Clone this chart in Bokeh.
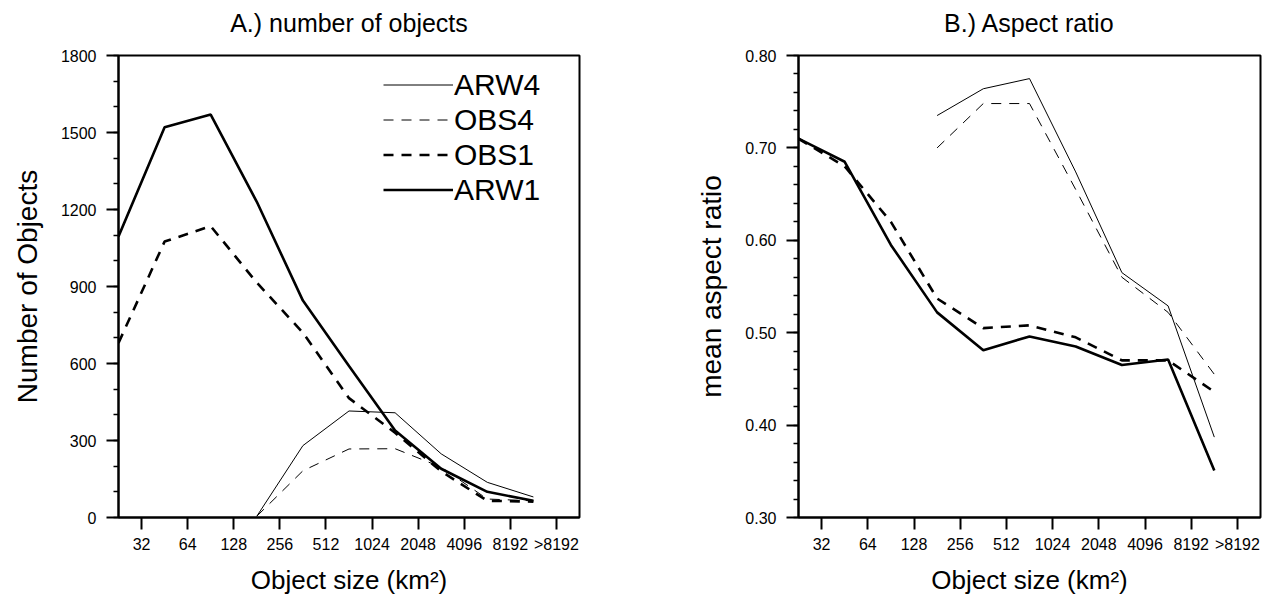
import numpy as np
from bokeh.plotting import figure
from bokeh.models import Range1d, FixedTicker, Legend, LegendItem, PrintfTickFormatter, Title
from bokeh.layouts import row
from bokeh.embed import file_html
from bokeh.resources import INLINE

nan = np.nan

# ---- data ----
size_labels = ["32", "64", "128", "256", "512", "1024", "2048", "4096", "8192", ">8192"]
point_index = list(range(10))

count_arw4 = [nan, nan, nan, 5, 280, 415, 408, 248, 137, 80]
count_obs4 = [nan, nan, nan, 5, 182, 267, 268, 196, 72, 65]
count_obs1 = [680, 1075, 1135, 915, 720, 465, 330, 180, 65, 62]
count_arw1 = [1095, 1520, 1570, 1230, 845, 590, 339, 190, 100, 65]

ratio_arw4 = [nan, nan, nan, 0.735, 0.764, 0.775, 0.674, 0.565, 0.529, 0.387]
ratio_obs4 = [nan, nan, nan, 0.700, 0.748, 0.748, 0.655, 0.560, 0.522, 0.455]
ratio_obs1 = [0.710, 0.680, 0.620, 0.537, 0.505, 0.508, 0.495, 0.470, 0.470, 0.436]
ratio_arw1 = [0.710, 0.685, 0.595, 0.522, 0.481, 0.496, 0.485, 0.465, 0.471, 0.351]

count_ticks = [0, 300, 600, 900, 1200, 1500, 1800]
count_minor = list(range(0, 1801, 100))
ratio_ticks = [0.3, 0.4, 0.5, 0.6, 0.7, 0.8]
ratio_minor = [round(0.3 + 0.02 * i, 2) for i in range(26)]

FONT = "Liberation Sans"
THICK = 2.6
THIN = 1.0
DASH = "10 8"


def style(p, ylabel, yticks, yminor, ystandoff):
    xticks = [i + 0.5 for i in point_index]
    p.xaxis.ticker = FixedTicker(ticks=xticks, minor_ticks=[])
    p.xaxis.major_label_overrides = {t: lab for t, lab in zip(xticks, size_labels)}
    p.yaxis.ticker = FixedTicker(ticks=yticks, minor_ticks=yminor)
    p.xgrid.visible = False
    p.ygrid.visible = False
    p.outline_line_color = "black"
    p.outline_line_width = 2
    for ax in (p.xaxis[0], p.yaxis[0]):
        ax.axis_line_width = 2
        ax.major_tick_line_width = 2
        ax.minor_tick_line_width = 1.5
        ax.major_tick_out = 12
        ax.major_tick_in = 0
        ax.minor_tick_out = 5
        ax.minor_tick_in = 0
        ax.major_label_text_font = FONT
        ax.major_label_text_font_size = "16px"
        ax.major_label_text_color = "black"
        ax.axis_label_text_font = FONT
        ax.axis_label_text_font_style = "normal"
        ax.axis_label_text_color = "black"
    p.xaxis.major_label_standoff = 6
    p.xaxis.axis_label_standoff = 9
    p.xaxis.axis_label_text_font_size = "26px"
    p.xaxis.axis_label = "Object size (km²)"
    p.yaxis.major_label_standoff = 10
    p.yaxis.axis_label_standoff = ystandoff
    p.yaxis.axis_label_text_font_size = "28px"
    p.yaxis.axis_label = ylabel
    p.title.text_font = FONT
    p.title.text_font_size = "25px"
    p.title.text_font_style = "normal"
    p.title.text_color = "black"
    p.title.align = "center"
    # empty spacer between the frame and the title lifts the title up
    spacer = Title(text=" ", text_font_size="11px", standoff=0)
    p.above = [spacer] + list(p.above)


pA = figure(frame_width=461, frame_height=462, min_border_left=118, min_border_right=62,
            min_border_top=55, min_border_bottom=80,
            x_range=Range1d(0, 10), y_range=Range1d(0, 1800),
            title="A.) number of objects",
            output_backend="svg", toolbar_location=None)
style(pA, "Number of Objects", count_ticks, count_minor, 15)

rA4 = pA.line(point_index, count_arw4, line_color="black", line_width=THIN)
rO4 = pA.line(point_index, count_obs4, line_color="black", line_width=THIN, line_dash=DASH)
rO1 = pA.line(point_index, count_obs1, line_color="black", line_width=THICK, line_dash=DASH)
rA1 = pA.line(point_index, count_arw1, line_color="black", line_width=THICK)

legend = Legend(items=[LegendItem(label="ARW4", renderers=[rA4]),
                       LegendItem(label="OBS4", renderers=[rO4]),
                       LegendItem(label="OBS1", renderers=[rO1]),
                       LegendItem(label="ARW1", renderers=[rA1])],
                location=(265, 310), padding=0, margin=0, spacing=0,
                glyph_width=70, glyph_height=35, label_height=35, label_standoff=1,
                label_text_font=FONT, label_text_font_size="30px", label_text_color="black",
                border_line_alpha=0, background_fill_alpha=0)
pA.add_layout(legend)

pB = figure(frame_width=462, frame_height=462, min_border_left=157, min_border_right=5,
            min_border_top=55, min_border_bottom=80,
            x_range=Range1d(0, 10), y_range=Range1d(0.3, 0.8),
            title="B.) Aspect ratio",
            output_backend="svg", toolbar_location=None)
style(pB, "mean aspect ratio", ratio_ticks, ratio_minor, 15)
pB.yaxis.formatter = PrintfTickFormatter(format="%.2f")

pB.line(point_index, ratio_arw4, line_color="black", line_width=THIN)
pB.line(point_index, ratio_obs4, line_color="black", line_width=THIN, line_dash=DASH)
pB.line(point_index, ratio_obs1, line_color="black", line_width=THICK, line_dash=DASH)
pB.line(point_index, ratio_arw1, line_color="black", line_width=THICK)

layout = row(pA, pB)
open("out.html", "w").write(file_html(layout, INLINE))
